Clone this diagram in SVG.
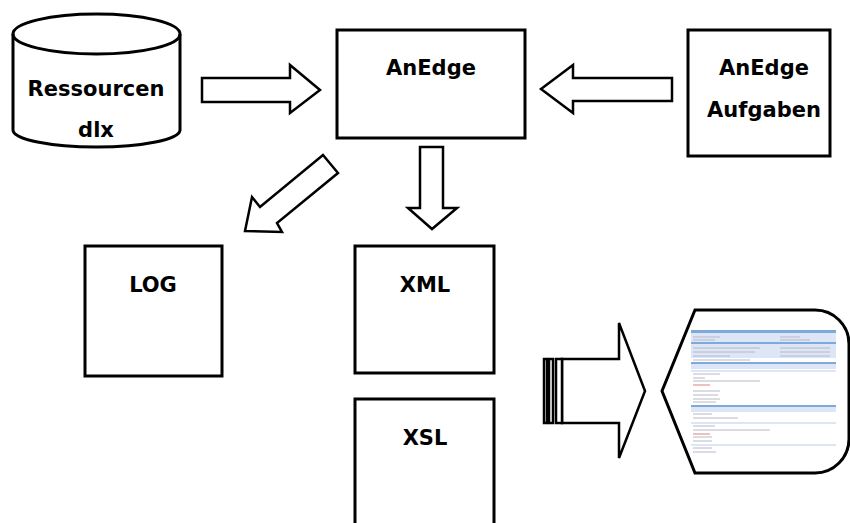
<svg xmlns="http://www.w3.org/2000/svg" width="850" height="523" viewBox="0 0 850 523">
<style>
.box{fill:#fff;stroke:#000;stroke-width:3}
.arr{fill:#fff;stroke:#000;stroke-width:2.5;stroke-linejoin:miter}
.t{font-family:"DejaVu Sans","Liberation Sans",sans-serif;font-weight:bold;font-size:21px;fill:#000;text-anchor:middle}
.bar{fill:#7fa9d9}
.lbar{fill:#dce6f6}
.ln{stroke:#b8b8c8;stroke-width:1}
</style>
<rect width="850" height="523" fill="#fff"/>
<g id="ressourcen">
<path class="box" d="M13,34 L13,130 A83.5,17 0 0 0 180,130 L180,34 A83.5,20 0 0 0 13,34 Z"/>
<path class="box" style="fill:none" d="M13,34 A83.5,20 0 0 0 180,34"/>
<text class="t" x="96" y="96">Ressourcen</text>
<text class="t" x="96" y="137">dlx</text>
</g>
<g id="anedge">
<rect class="box" x="337" y="30" width="188" height="108"/>
<text class="t" x="431" y="75">AnEdge</text>
</g>
<g id="aufgaben">
<rect class="box" x="688" y="30" width="142" height="126"/>
<text class="t" x="764" y="75">AnEdge</text>
<text class="t" x="764" y="117">Aufgaben</text>
</g>
<g id="log">
<rect class="box" x="85" y="246" width="137" height="130"/>
<text class="t" x="153" y="292">LOG</text>
</g>
<g id="xml">
<rect class="box" x="355" y="246" width="139" height="127"/>
<text class="t" x="425" y="292">XML</text>
</g>
<g id="xsl">
<path class="box" d="M355,530 L355,399 L494,399 L494,530"/>
<text class="t" x="425" y="445">XSL</text>
</g>
<g id="display">
<path class="box" d="M662,391 L695,310 L815,310 A34,34 0 0 1 849,344 L849,439 A34,34 0 0 1 815,473 L695,473 Z"/>
<g id="screenshot">
<rect class="bar" x="691" y="330" width="145" height="3"/>
<rect class="lbar" x="691" y="333" width="145" height="9"/>
<rect class="bar" x="691" y="342" width="145" height="2"/>
<rect class="lbar" x="691" y="344" width="145" height="14"/>
<line class="ln" x1="693" y1="337" x2="720" y2="337"/>
<line class="ln" x1="780" y1="337" x2="800" y2="337"/>
<line class="ln" x1="693" y1="340" x2="715" y2="340"/>
<line class="ln" x1="780" y1="340" x2="810" y2="340"/>
<line class="ln" x1="693" y1="348" x2="760" y2="348"/>
<line class="ln" x1="780" y1="348" x2="830" y2="348"/>
<line class="ln" x1="693" y1="352" x2="755" y2="352"/>
<line class="ln" x1="780" y1="352" x2="830" y2="352"/>
<line class="ln" x1="693" y1="356" x2="730" y2="356"/>
<line class="ln" x1="780" y1="356" x2="830" y2="356"/>
<line class="ln" x1="693" y1="360" x2="750" y2="360"/>
<rect class="bar" x="691" y="362" width="145" height="2"/>
<rect class="lbar" x="691" y="364" width="145" height="5"/>
<rect class="lbar" x="691" y="370" width="145" height="2"/>
<line class="ln" x1="693" y1="374" x2="720" y2="374"/>
<line class="ln" x1="693" y1="378" x2="705" y2="378"/>
<line class="ln" x1="693" y1="381" x2="760" y2="381"/>
<line x1="693" y1="385" x2="710" y2="385" stroke="#e08080" stroke-width="1"/>
<line class="ln" x1="693" y1="391" x2="720" y2="391"/>
<line class="ln" x1="693" y1="395" x2="718" y2="395"/>
<line class="ln" x1="693" y1="399" x2="720" y2="399"/>
<line class="ln" x1="693" y1="402" x2="716" y2="402"/>
<rect class="bar" x="691" y="405" width="145" height="2"/>
<rect class="lbar" x="691" y="407" width="145" height="5"/>
<line class="ln" x1="693" y1="414" x2="712" y2="414"/>
<line class="ln" x1="693" y1="418" x2="738" y2="418"/>
<rect class="lbar" x="691" y="422" width="145" height="2"/>
<line class="ln" x1="693" y1="426" x2="715" y2="426"/>
<line class="ln" x1="693" y1="430" x2="770" y2="430"/>
<line x1="693" y1="434" x2="710" y2="434" stroke="#e08080" stroke-width="1"/>
<line class="ln" x1="693" y1="437" x2="712" y2="437"/>
<line class="ln" x1="693" y1="441" x2="712" y2="441"/>
<rect class="lbar" x="691" y="444" width="145" height="2"/>
<line class="ln" x1="693" y1="448" x2="712" y2="448"/>
<line class="ln" x1="693" y1="452" x2="716" y2="452"/>
</g>
</g>
<g id="connectors">
<path class="arr" d="M202,78 L290,78 L290,65 L320,90 L290,113 L290,102 L202,102 Z"/>
<path class="arr" d="M672,78 L573,78 L573,65 L541,89 L573,113 L573,101 L672,101 Z"/>
<path class="arr" d="M323,155 L338,173 L277,223 L282,232 L245,231 L252,197 L260,207 Z"/>
<path class="arr" d="M420,147 L443,147 L443,208 L457,208 L432,229 L408,208 L420,208 Z"/>
<path class="arr" d="M562,359 L619,359 L619,323 L645,391 L619,458 L619,423 L562,423 Z"/>
<rect class="arr" x="544" y="359" width="3" height="64" stroke-width="1.2"/>
<rect class="arr" x="549" y="359" width="4" height="64" stroke-width="1.2"/>
<rect class="arr" x="556" y="359" width="6" height="64" stroke-width="2"/>
</g>
</svg>
